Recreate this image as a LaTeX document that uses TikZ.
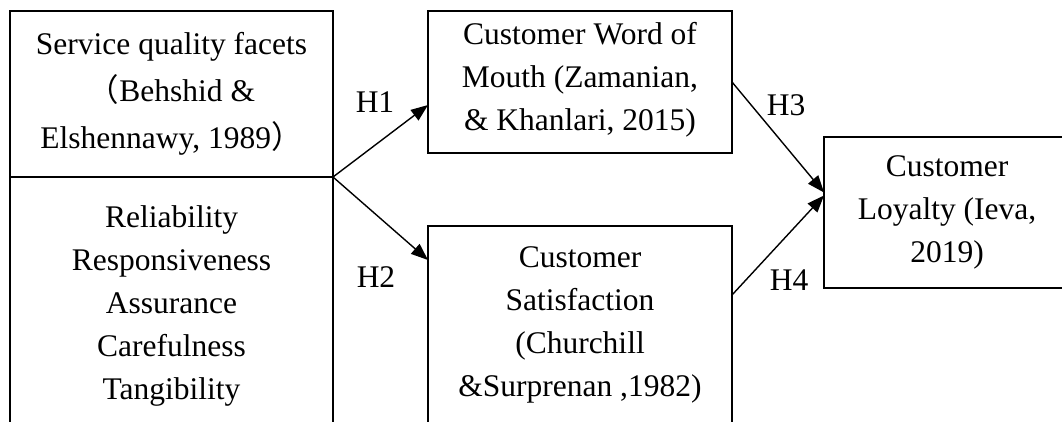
\documentclass[tikz,border=0pt]{standalone}
\usepackage{fontspec}
\setmainfont{Liberation Serif}
\newfontfamily\cjk{Noto Sans CJK SC}
\usetikzlibrary{arrows.meta}
\begin{document}
\begin{tikzpicture}[x=1pt,y=-1pt,
  box/.style={draw, line width=1.5pt, inner sep=0pt, outer sep=0pt, align=center, anchor=north west, font=\fontsize{31.5}{43}\selectfont},
  lbl/.style={inner sep=0pt, font=\fontsize{31.5}{43}\selectfont},
  arr/.style={line width=1.4pt, -{Triangle[length=17pt,width=13pt]}}]
\useasboundingbox (0,0) rectangle (1062,421);
\clip (0,0) rectangle (1062,421);
\node[box, minimum width=323pt, minimum height=166pt, font=\fontsize{31.5}{47}\selectfont] (sq) at (10,11) {Service quality facets\\{\cjk （}Behshid \&\\Elshennawy, 1989{\cjk ）}};
\node[box, minimum width=323pt, minimum height=258pt] (dims) at (10,177) {Reliability\\Responsiveness\\Assurance\\Carefulness\\Tangibility};
\node[box, minimum width=304pt, minimum height=142pt, text depth=11pt] (wom) at (428,11) {Customer Word of\\Mouth (Zamanian,\\\& Khanlari, 2015)};
\node[box, minimum width=304pt, minimum height=198pt] (sat) at (428,226) {Customer\\Satisfaction\\(Churchill\\\&Surprenan ,1982)};
\node[box, minimum width=246pt, minimum height=151pt] (loy) at (824,137) {Customer\\Loyalty (Ieva,\\2019)};
\draw[arr] (sq.south east) -- ([yshift=-23pt]wom.west);
\draw[arr] (sq.south east) -- ([yshift=-34pt]sat.north west);
\draw[arr] (wom.east) -- ([yshift=20pt]loy.west);
\draw[arr] ([yshift=-69pt]sat.north east) -- ([yshift=17pt]loy.west);
\node[lbl] (h1) at (375,102) {H1};
\node[lbl] (h2) at (376,277) {H2};
\node[lbl] (h3) at (786,105) {H3};
\node[lbl] (h4) at (789,280) {H4};
\end{tikzpicture}
\end{document}
